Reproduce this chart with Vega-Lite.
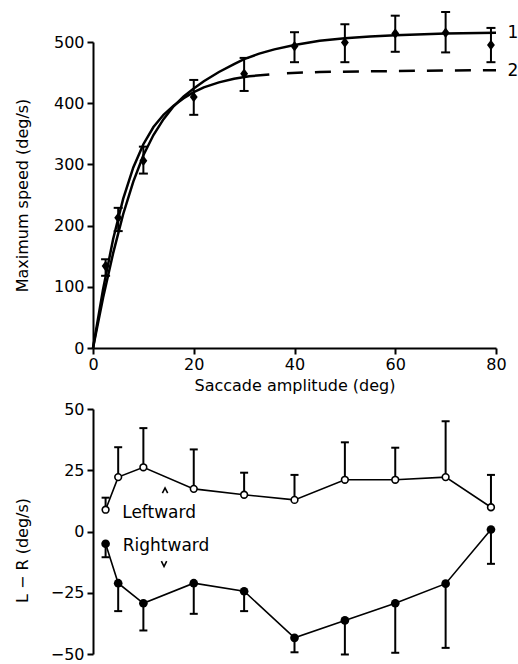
{
  "$schema": "https://vega.github.io/schema/vega-lite/v6.json",
  "background": "white",
  "padding": {"left": 14, "top": 11, "right": 0, "bottom": 0},
  "spacing": 8,
  "config": {
    "view": {"stroke": null},
    "font": "DejaVu Sans",
    "axis": {
      "domainColor": "black", "domainWidth": 2, "tickColor": "black", "tickWidth": 2, "tickSize": 6,
      "labelColor": "black", "labelFontSize": 16, "titleFontSize": 16, "titleFontWeight": "normal",
      "titleColor": "black", "grid": false, "labelFont": "DejaVu Sans", "titleFont": "DejaVu Sans"
    }
  },
  "datasets": {
    "curves": [
      {"curve": "1", "amplitude": 0, "speed": 0},
      {"curve": "1", "amplitude": 2, "speed": 82},
      {"curve": "1", "amplitude": 4, "speed": 155},
      {"curve": "1", "amplitude": 6, "speed": 219},
      {"curve": "1", "amplitude": 8, "speed": 272},
      {"curve": "1", "amplitude": 10, "speed": 315},
      {"curve": "1", "amplitude": 12, "speed": 348},
      {"curve": "1", "amplitude": 14, "speed": 374},
      {"curve": "1", "amplitude": 16, "speed": 395},
      {"curve": "1", "amplitude": 18, "speed": 411},
      {"curve": "1", "amplitude": 20, "speed": 424},
      {"curve": "1", "amplitude": 22, "speed": 436},
      {"curve": "1", "amplitude": 25, "speed": 451},
      {"curve": "1", "amplitude": 28, "speed": 464},
      {"curve": "1", "amplitude": 30, "speed": 472},
      {"curve": "1", "amplitude": 33, "speed": 481},
      {"curve": "1", "amplitude": 36, "speed": 488},
      {"curve": "1", "amplitude": 40, "speed": 495},
      {"curve": "1", "amplitude": 45, "speed": 502},
      {"curve": "1", "amplitude": 50, "speed": 506},
      {"curve": "1", "amplitude": 55, "speed": 509},
      {"curve": "1", "amplitude": 60, "speed": 511},
      {"curve": "1", "amplitude": 70, "speed": 514},
      {"curve": "1", "amplitude": 80, "speed": 515},
      {"curve": "2", "amplitude": 0, "speed": 0},
      {"curve": "2", "amplitude": 2, "speed": 96},
      {"curve": "2", "amplitude": 4, "speed": 178},
      {"curve": "2", "amplitude": 6, "speed": 244},
      {"curve": "2", "amplitude": 8, "speed": 295},
      {"curve": "2", "amplitude": 10, "speed": 333},
      {"curve": "2", "amplitude": 12, "speed": 361},
      {"curve": "2", "amplitude": 14, "speed": 381},
      {"curve": "2", "amplitude": 16, "speed": 396},
      {"curve": "2", "amplitude": 18, "speed": 408},
      {"curve": "2", "amplitude": 20, "speed": 418},
      {"curve": "2", "amplitude": 22, "speed": 426},
      {"curve": "2", "amplitude": 25, "speed": 434},
      {"curve": "2", "amplitude": 28, "speed": 440},
      {"curve": "2", "amplitude": 31, "speed": 444},
      {"curve": "2", "amplitude": 35, "speed": 447},
      {"curve": "2d", "amplitude": 38.5, "speed": 449},
      {"curve": "2d", "amplitude": 45, "speed": 451},
      {"curve": "2d", "amplitude": 55, "speed": 452},
      {"curve": "2d", "amplitude": 65, "speed": 453},
      {"curve": "2d", "amplitude": 80, "speed": 454}
    ],
    "speed": [
      {"amplitude": 2.5, "speed": 134, "lo": 118, "hi": 145},
      {"amplitude": 5, "speed": 213, "lo": 191, "hi": 229},
      {"amplitude": 10, "speed": 306, "lo": 285, "hi": 329},
      {"amplitude": 20, "speed": 410, "lo": 381, "hi": 438},
      {"amplitude": 30, "speed": 448, "lo": 420, "hi": 474},
      {"amplitude": 40, "speed": 493, "lo": 467, "hi": 516},
      {"amplitude": 50, "speed": 499, "lo": 467, "hi": 529},
      {"amplitude": 60, "speed": 514, "lo": 484, "hi": 543},
      {"amplitude": 70, "speed": 515, "lo": 483, "hi": 549},
      {"amplitude": 79, "speed": 495, "lo": 467, "hi": 523}
    ],
    "curvelabels": [
      {"amplitude": 82.3, "speed": 515, "text": "1"},
      {"amplitude": 82.3, "speed": 453, "text": "2"}
    ],
    "lr": [
      {"dir": "L", "amplitude": 2.5, "value": 8.9, "err": 13.8},
      {"dir": "L", "amplitude": 5, "value": 22.2, "err": 34.4},
      {"dir": "L", "amplitude": 10, "value": 26.2, "err": 42.2},
      {"dir": "L", "amplitude": 20, "value": 17.4, "err": 33.5},
      {"dir": "L", "amplitude": 30, "value": 15.0, "err": 24.0},
      {"dir": "L", "amplitude": 40, "value": 12.9, "err": 23.1},
      {"dir": "L", "amplitude": 50, "value": 21.1, "err": 36.4},
      {"dir": "L", "amplitude": 60, "value": 21.1, "err": 34.2},
      {"dir": "L", "amplitude": 70, "value": 22.2, "err": 45.0},
      {"dir": "L", "amplitude": 79, "value": 9.9, "err": 23.1},
      {"dir": "R", "amplitude": 2.5, "value": -5.0, "err": -10.5},
      {"dir": "R", "amplitude": 5, "value": -21.1, "err": -32.5},
      {"dir": "R", "amplitude": 10, "value": -29.3, "err": -40.4},
      {"dir": "R", "amplitude": 20, "value": -21.1, "err": -33.6},
      {"dir": "R", "amplitude": 30, "value": -24.4, "err": -32.5},
      {"dir": "R", "amplitude": 40, "value": -43.4, "err": -49.3},
      {"dir": "R", "amplitude": 50, "value": -36.3, "err": -50.2},
      {"dir": "R", "amplitude": 60, "value": -29.3, "err": -49.5},
      {"dir": "R", "amplitude": 70, "value": -21.3, "err": -47.5},
      {"dir": "R", "amplitude": 79, "value": 0.8, "err": -13.2}
    ],
    "notes": [
      {"amplitude": 5.8, "value": 7.5, "text": "Leftward"},
      {"amplitude": 5.9, "value": -6.1, "text": "Rightward"}
    ],
    "carets": [
      {"amplitude": 14.3, "value": 16.7, "dir": "up"},
      {"amplitude": 14.1, "value": -13.2, "dir": "down"}
    ]
  },
  "vconcat": [
    {
      "width": 403,
      "height": 306,
      "layer": [
        {
          "data": {"name": "curves"},
          "transform": [{"filter": "datum.curve == '1'"}],
          "mark": {"type": "line", "color": "black", "strokeWidth": 2.5},
          "encoding": {
            "x": {"field": "amplitude", "type": "quantitative", "title": "Saccade amplitude (deg)", "scale": {"domain": [0, 80], "nice": false},
                  "axis": {"values": [0, 20, 40, 60, 80], "labelPadding": 2, "titlePadding": 5, "labelFlush": false}},
            "y": {"field": "speed", "type": "quantitative", "title": "Maximum speed (deg/s)", "scale": {"domain": [0, 500], "nice": false, "zero": true},
                  "axis": {"values": [0, 100, 200, 300, 400, 500], "labelPadding": 3, "titleX": -63}}
          }
        },
        {
          "data": {"name": "curves"},
          "transform": [{"filter": "datum.curve == '2'"}],
          "mark": {"type": "line", "color": "black", "strokeWidth": 2.5},
          "encoding": {
            "x": {"field": "amplitude", "type": "quantitative", "title": "Saccade amplitude (deg)"},
            "y": {"field": "speed", "type": "quantitative", "title": "Maximum speed (deg/s)"}
          }
        },
        {
          "data": {"name": "curves"},
          "transform": [{"filter": "datum.curve == '2d'"}],
          "mark": {"type": "line", "color": "black", "strokeWidth": 2.5, "strokeDash": [16, 12]},
          "encoding": {
            "x": {"field": "amplitude", "type": "quantitative", "title": "Saccade amplitude (deg)"},
            "y": {"field": "speed", "type": "quantitative", "title": "Maximum speed (deg/s)"}
          }
        },
        {
          "data": {"name": "speed"},
          "mark": {"type": "rule", "color": "black", "strokeWidth": 2},
          "encoding": {
            "x": {"field": "amplitude", "type": "quantitative", "title": "Saccade amplitude (deg)"},
            "y": {"field": "lo", "type": "quantitative", "title": "Maximum speed (deg/s)"},
            "y2": {"field": "hi"}
          }
        },
        {
          "data": {"name": "speed"},
          "mark": {"type": "tick", "orient": "horizontal", "color": "black", "size": 9, "thickness": 2, "opacity": 1},
          "encoding": {
            "x": {"field": "amplitude", "type": "quantitative", "title": "Saccade amplitude (deg)"},
            "y": {"field": "lo", "type": "quantitative", "title": "Maximum speed (deg/s)"}
          }
        },
        {
          "data": {"name": "speed"},
          "mark": {"type": "tick", "orient": "horizontal", "color": "black", "size": 9, "thickness": 2, "opacity": 1},
          "encoding": {
            "x": {"field": "amplitude", "type": "quantitative", "title": "Saccade amplitude (deg)"},
            "y": {"field": "hi", "type": "quantitative", "title": "Maximum speed (deg/s)"}
          }
        },
        {
          "data": {"name": "speed"},
          "mark": {"type": "point", "shape": "M-0.75,0L0,-1L0.75,0L0,1Z", "filled": true, "color": "black", "size": 110, "opacity": 1},
          "encoding": {
            "x": {"field": "amplitude", "type": "quantitative", "title": "Saccade amplitude (deg)"},
            "y": {"field": "speed", "type": "quantitative", "title": "Maximum speed (deg/s)"}
          }
        },
        {
          "data": {"name": "curvelabels"},
          "mark": {"type": "text", "align": "left", "baseline": "middle", "fontSize": 17, "color": "black", "font": "DejaVu Sans"},
          "encoding": {
            "x": {"field": "amplitude", "type": "quantitative", "title": "Saccade amplitude (deg)"},
            "y": {"field": "speed", "type": "quantitative", "title": "Maximum speed (deg/s)"},
            "text": {"field": "text"}
          }
        }
      ]
    },
    {
      "width": 403,
      "height": 245,
      "encoding": {
        "x": {"field": "amplitude", "type": "quantitative", "scale": {"domain": [0, 80], "nice": false}, "axis": null}
      },
      "layer": [
        {
          "data": {"name": "lr"},
          "transform": [{"filter": "datum.dir == 'L'"}],
          "mark": {"type": "line", "color": "black", "strokeWidth": 1.6},
          "encoding": {
            "y": {"field": "value", "type": "quantitative", "title": "L − R (deg/s)", "scale": {"domain": [-50, 50], "nice": false},
                  "axis": {"values": [-50, -25, 0, 25, 50], "labelPadding": 3, "titleX": -63, "titleY": 141}}
          }
        },
        {
          "data": {"name": "lr"},
          "transform": [{"filter": "datum.dir == 'R'"}],
          "mark": {"type": "line", "color": "black", "strokeWidth": 1.6},
          "encoding": {
            "y": {"field": "value", "type": "quantitative", "title": "L − R (deg/s)"}
          }
        },
        {
          "data": {"name": "lr"},
          "mark": {"type": "rule", "color": "black", "strokeWidth": 2},
          "encoding": {
            "y": {"field": "value", "type": "quantitative", "title": "L − R (deg/s)"},
            "y2": {"field": "err"}
          }
        },
        {
          "data": {"name": "lr"},
          "mark": {"type": "tick", "orient": "horizontal", "color": "black", "size": 8, "thickness": 2, "opacity": 1},
          "encoding": {
            "y": {"field": "err", "type": "quantitative", "title": "L − R (deg/s)"}
          }
        },
        {
          "data": {"name": "lr"},
          "transform": [{"filter": "datum.dir == 'L'"}],
          "mark": {"type": "point", "shape": "circle", "filled": true, "fill": "white", "stroke": "black", "strokeWidth": 1.6, "size": 45, "opacity": 1},
          "encoding": {
            "y": {"field": "value", "type": "quantitative", "title": "L − R (deg/s)"}
          }
        },
        {
          "data": {"name": "lr"},
          "transform": [{"filter": "datum.dir == 'R'"}],
          "mark": {"type": "point", "shape": "circle", "filled": true, "color": "black", "size": 75, "opacity": 1},
          "encoding": {
            "y": {"field": "value", "type": "quantitative", "title": "L − R (deg/s)"}
          }
        },
        {
          "data": {"name": "notes"},
          "mark": {"type": "text", "align": "left", "baseline": "middle", "fontSize": 17, "color": "black", "font": "DejaVu Sans"},
          "encoding": {
            "y": {"field": "value", "type": "quantitative", "title": "L − R (deg/s)"},
            "text": {"field": "text"}
          }
        },
        {
          "data": {"name": "carets"},
          "transform": [{"filter": "datum.dir == 'up'"}],
          "mark": {"type": "point", "shape": "M-1,1L0,-1L1,1", "filled": false, "color": "black", "strokeWidth": 1.6, "size": 28, "opacity": 1},
          "encoding": {
            "y": {"field": "value", "type": "quantitative", "title": "L − R (deg/s)"}
          }
        },
        {
          "data": {"name": "carets"},
          "transform": [{"filter": "datum.dir == 'down'"}],
          "mark": {"type": "point", "shape": "M-1,-1L0,1L1,-1", "filled": false, "color": "black", "strokeWidth": 1.6, "size": 28, "opacity": 1},
          "encoding": {
            "y": {"field": "value", "type": "quantitative", "title": "L − R (deg/s)"}
          }
        }
      ]
    }
  ]
}
